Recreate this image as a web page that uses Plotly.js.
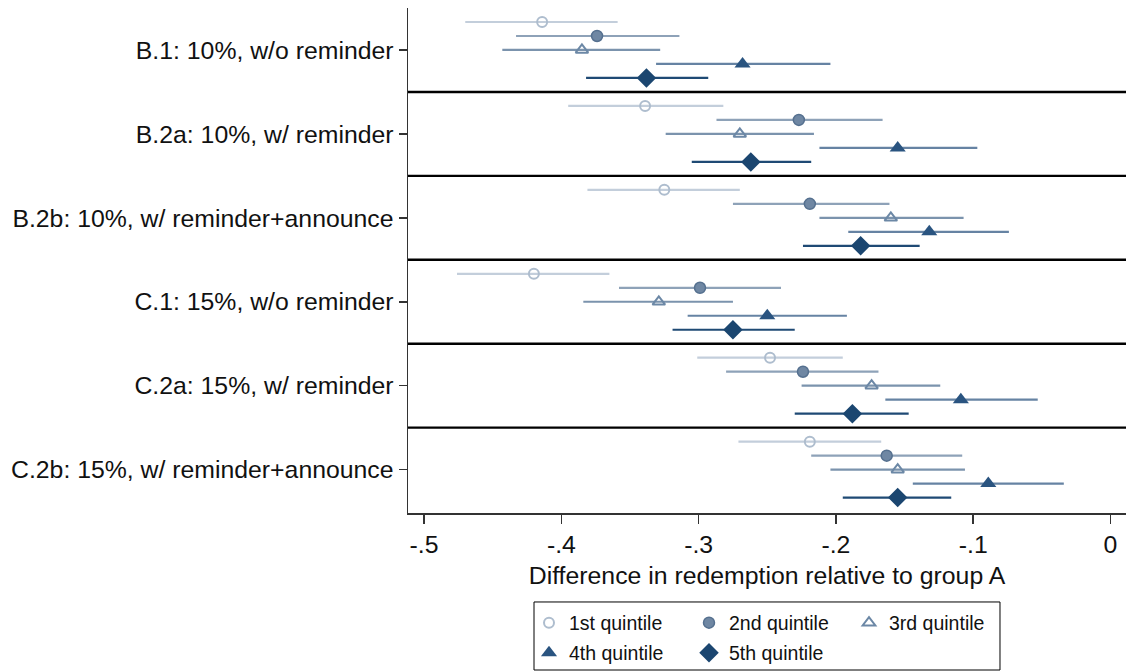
<!DOCTYPE html>
<html>
<head>
<meta charset="utf-8">
<script src="https://cdn.plot.ly/plotly-3.0.1.min.js"></script>
<style>html,body{margin:0;padding:0;background:#fff;}#chart{width:1126px;height:672px;}</style>
</head>
<body>
<div id="chart"></div>
<script>
var groups = ["B.1: 10%, w/o reminder", "B.2a: 10%, w/ reminder", "B.2b: 10%, w/ reminder+announce",
              "C.1: 15%, w/o reminder", "C.2a: 15%, w/ reminder", "C.2b: 15%, w/ reminder+announce"];
var seriesNames = ["1st quintile", "2nd quintile", "3rd quintile", "4th quintile", "5th quintile"];

var q1_est = [-0.414, -0.339, -0.325, -0.420, -0.248, -0.219];
var q1_lo  = [-0.470, -0.395, -0.381, -0.476, -0.301, -0.271];
var q1_hi  = [-0.359, -0.282, -0.270, -0.365, -0.195, -0.167];

var q2_est = [-0.374, -0.227, -0.219, -0.299, -0.224, -0.163];
var q2_lo  = [-0.433, -0.287, -0.275, -0.358, -0.280, -0.218];
var q2_hi  = [-0.314, -0.166, -0.161, -0.240, -0.169, -0.108];

var q3_est = [-0.385, -0.270, -0.160, -0.329, -0.174, -0.155];
var q3_lo  = [-0.443, -0.324, -0.212, -0.384, -0.225, -0.204];
var q3_hi  = [-0.328, -0.216, -0.107, -0.275, -0.124, -0.106];

var q4_est = [-0.268, -0.155, -0.132, -0.250, -0.109, -0.089];
var q4_lo  = [-0.331, -0.212, -0.191, -0.308, -0.164, -0.144];
var q4_hi  = [-0.204, -0.097, -0.074, -0.192, -0.053, -0.034];

var q5_est = [-0.338, -0.262, -0.182, -0.275, -0.188, -0.155];
var q5_lo  = [-0.382, -0.305, -0.224, -0.319, -0.230, -0.195];
var q5_hi  = [-0.293, -0.218, -0.139, -0.230, -0.147, -0.116];

var xTickVals = [-0.5, -0.4, -0.3, -0.2, -0.1, 0];
var xTickText = ["-.5", "-.4", "-.3", "-.2", "-.1", "0"];

var FONT = "Arial, 'Liberation Sans', sans-serif";
var est = [q1_est, q2_est, q3_est, q4_est, q5_est];
var lo = [q1_lo, q2_lo, q3_lo, q4_lo, q5_lo];
var hi = [q1_hi, q2_hi, q3_hi, q4_hi, q5_hi];

var styles = [
  {symbol: "circle-open", size: 10, color: "#aebdce", lw: 2, err: "#c3cedb", legend: "legend"},
  {symbol: "circle", size: 11, color: "#6f87a3", lw: 1.5, lcolor: "#55708f", err: "#8ea2b8", legend: "legend"},
  {symbol: "triangle-up-open", size: 11, color: "#6c88a6", lw: 2, err: "#7b93ad", legend: "legend"},
  {symbol: "triangle-up", size: 14, color: "#2a5480", lw: 0, err: "#6683a3", legend: "legend2"},
  {symbol: "diamond", size: 15, color: "#1b4670", lw: 0, err: "#1f4a74", legend: "legend2"}
];

var GROUP_STEP = 6;
var traces = [];
for (var k = 0; k < 5; k++) {
  var ys = [], plus = [], minus = [];
  for (var g = 0; g < groups.length; g++) {
    ys.push(g * GROUP_STEP + k);
    plus.push(hi[k][g] - est[k][g]);
    minus.push(est[k][g] - lo[k][g]);
  }
  var s = styles[k];
  traces.push({
    type: "scatter", mode: "markers", name: seriesNames[k],
    x: est[k], y: ys, legend: s.legend,
    marker: {symbol: s.symbol, size: s.size, color: s.color,
             line: {width: s.lw, color: s.lcolor || s.color}},
    error_x: {type: "data", symmetric: false, array: plus, arrayminus: minus,
              color: s.err, thickness: 2.2, width: 0},
    hoverinfo: "x+name"
  });
}

var tickVals = [];
var shapes = [];
for (var g = 0; g < groups.length; g++) {
  tickVals.push(g * GROUP_STEP + 2);
  if (g < groups.length - 1) {
    shapes.push({type: "line", xref: "paper", yref: "y", x0: 0, x1: 1,
                 y0: g * GROUP_STEP + 5, y1: g * GROUP_STEP + 5,
                 line: {color: "#000", width: 2.4}});
  }
}
// legend frame
shapes.push({type: "rect", xref: "paper", yref: "paper",
             x0: 0.1755, x1: 0.8245, y0: -0.3109, y1: -0.1762,
             line: {color: "#000", width: 1}, fillcolor: "rgba(0,0,0,0)"});

var FS = 24.8;
var layout = {
  width: 1126, height: 672,
  margin: {l: 408, r: 0, t: 8, b: 159, pad: 0},
  paper_bgcolor: "#fff", plot_bgcolor: "#fff",
  font: {family: FONT, size: FS, color: "#111"},
  showlegend: true,
  xaxis: {
    range: [-0.5117, 0.0113], tickvals: xTickVals, ticktext: xTickText,
    showgrid: false, zeroline: false, showline: true, linecolor: "#333", linewidth: 1.5,
    ticks: "outside", ticklen: 9, tickwidth: 1.5, tickcolor: "#333",
    tickfont: {family: FONT, size: FS, color: "#111"},
    title: {text: "Difference in redemption relative to group A", font: {family: FONT, size: FS, color: "#111"}, standoff: 9}
  },
  yaxis: {
    range: [35.1, -1.0], tickvals: tickVals, ticktext: groups,
    showgrid: false, zeroline: false, showline: true, linecolor: "#333", linewidth: 1.5,
    ticks: "outside", ticklen: 8, tickwidth: 1.5, tickcolor: "#333",
    tickfont: {family: FONT, size: FS, color: "#111"}
  },
  legend: {
    orientation: "h", xref: "container", yref: "container",
    x: 529 / 1126, xanchor: "left", y: (672 - 623) / 672, yanchor: "middle",
    entrywidth: 115, entrywidthmode: "pixels", bgcolor: "rgba(0,0,0,0)", borderwidth: 0,
    font: {family: FONT, size: 19.5, color: "#111"}, traceorder: "normal"
  },
  legend2: {
    orientation: "h", xref: "container", yref: "container",
    x: 529 / 1126, xanchor: "left", y: (672 - 653) / 672, yanchor: "middle",
    entrywidth: 115, entrywidthmode: "pixels", bgcolor: "rgba(0,0,0,0)", borderwidth: 0,
    font: {family: FONT, size: 19.5, color: "#111"}, traceorder: "normal"
  },
  shapes: shapes
};

Plotly.newPlot("chart", traces, layout, {displayModeBar: false, staticPlot: true});
</script>
</body>
</html>
